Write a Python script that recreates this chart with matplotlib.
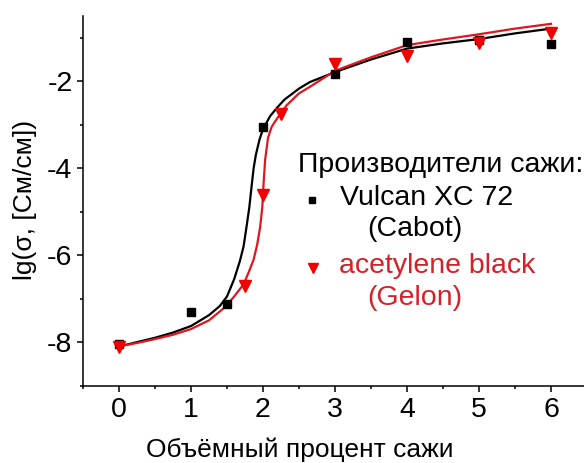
import matplotlib
matplotlib.use("Agg")
import matplotlib.pyplot as plt
from matplotlib.ticker import MultipleLocator
from matplotlib.lines import Line2D

plt.rcParams["font.family"] = ["Liberation Sans", "DejaVu Sans"]
plt.rcParams["axes.unicode_minus"] = False

# measured points
vol_black = [0, 1, 1.5, 2, 3, 4, 5, 6]
lg_black = [-8.05, -7.3, -7.13, -3.05, -1.84, -1.1, -1.05, -1.15]
vol_red = [0, 1.75, 2, 2.25, 3, 4, 5, 6]
lg_red = [-8.12, -6.7, -4.62, -2.75, -1.6, -1.42, -1.12, -0.9]

# fitted percolation curves
fit_x_black = [0, 0.25, 0.5, 0.75, 1.0, 1.25, 1.4, 1.5, 1.6, 1.68, 1.73, 1.77,
               1.81, 1.84, 1.87, 1.9, 1.95, 2.0, 2.1, 2.2, 2.3, 2.5, 2.65,
               3.0, 3.5, 4.0, 4.5, 5.0, 5.5, 6.0]
fit_y_black = [-8.1, -8.0, -7.9, -7.78, -7.63, -7.38, -7.17, -6.95, -6.55,
               -6.13, -5.8, -5.36, -4.9, -4.44, -4.0, -3.7, -3.35, -3.1,
               -2.8, -2.6, -2.42, -2.17, -2.02, -1.79, -1.5, -1.25, -1.13,
               -1.03, -0.9, -0.79]
fit_x_red = [0, 0.25, 0.5, 0.75, 1.0, 1.25, 1.47, 1.6, 1.73, 1.8, 1.87, 1.92,
             1.96, 1.99, 2.01, 2.03, 2.07, 2.12, 2.17, 2.24, 2.33, 2.5, 2.65,
             3.0, 3.5, 4.0, 4.5, 5.0, 5.5, 6.0]
fit_y_red = [-8.1, -8.02, -7.93, -7.83, -7.7, -7.5, -7.2, -6.95, -6.67, -6.4,
             -6.1, -5.75, -5.36, -4.9, -4.3, -3.8, -3.3, -3.05, -2.92, -2.75,
             -2.55, -2.28, -2.13, -1.76, -1.45, -1.17, -1.04, -0.92, -0.79,
             -0.68]

RED_MARK = "#F20000"
RED_LINE = "#E0161E"
RED_TEXT = "#D42127"
FS = 20.5
FS_LABEL = 19

W, H = 584, 463
AX_L, AX_R, AX_T, AX_B = 83, 587, 16, 385.6
fig = plt.figure(figsize=(W / 100, H / 100), dpi=100)
ax = fig.add_axes([AX_L / W, 1 - AX_B / H, (AX_R - AX_L) / W, (AX_B - AX_T) / H])

ax.plot(fit_x_black, fit_y_black, color="black", lw=1.6, zorder=2)
ax.plot(fit_x_red, fit_y_red, color=RED_LINE, lw=1.6, zorder=3)
ax.plot(vol_black, lg_black, "s", color="black", ms=6.2, ls="none", zorder=4)
ax.plot(vol_red, lg_red, "v", color=RED_MARK, ms=8.5, ls="none", zorder=5)

ax.set_xlim(-0.5, 6.5)
ax.set_ylim(-9, -0.5)
ax.xaxis.set_major_locator(MultipleLocator(1))
ax.xaxis.set_minor_locator(MultipleLocator(0.5))
ax.yaxis.set_minor_locator(MultipleLocator(1))
ax.set_yticks([-2, -4, -6, -8])

for s in ("top", "right"):
    ax.spines[s].set_visible(False)
for s in ("left", "bottom"):
    ax.spines[s].set_linewidth(1.1)
ax.tick_params(which="major", direction="out", length=4.5, width=1.1,
               labelsize=FS)
ax.tick_params(axis="x", which="major", pad=3.5)
ax.tick_params(axis="y", which="major", pad=3)
ax.tick_params(which="minor", direction="out", length=2.5, width=1.1)

ax.set_xlabel("Объёмный процент сажи", fontsize=FS_LABEL, va="baseline")
ax.set_ylabel("lg(σ, [См/см])", fontsize=FS_LABEL, va="center")
ax.xaxis.set_label_coords((300 - AX_L) / (AX_R - AX_L), -(457 - AX_B) / (AX_B - AX_T))
ax.yaxis.set_label_coords(-(AX_L - 25) / (AX_R - AX_L), (AX_B - 200) / (AX_B - AX_T))


def ftext(px, py, s, color="black"):
    fig.text(px / W, 1 - py / H, s, color=color, fontsize=FS,
             ha="left", va="baseline")


ftext(298, 172, "Производители сажи:")
ftext(340, 205, "Vulcan XC 72")
ftext(367, 236, "(Cabot)")
ftext(339, 273, "acetylene black", RED_TEXT)
ftext(367, 305, "(Gelon)", RED_TEXT)

fig.add_artist(Line2D([312 / W], [1 - 200 / H], marker="s", color="black",
                      ms=5, ls="none", transform=fig.transFigure))
fig.add_artist(Line2D([312.5 / W], [1 - 268 / H], marker="v", color=RED_MARK,
                      ms=7, ls="none", transform=fig.transFigure))

fig.savefig("out.png", dpi=100, facecolor="white")
